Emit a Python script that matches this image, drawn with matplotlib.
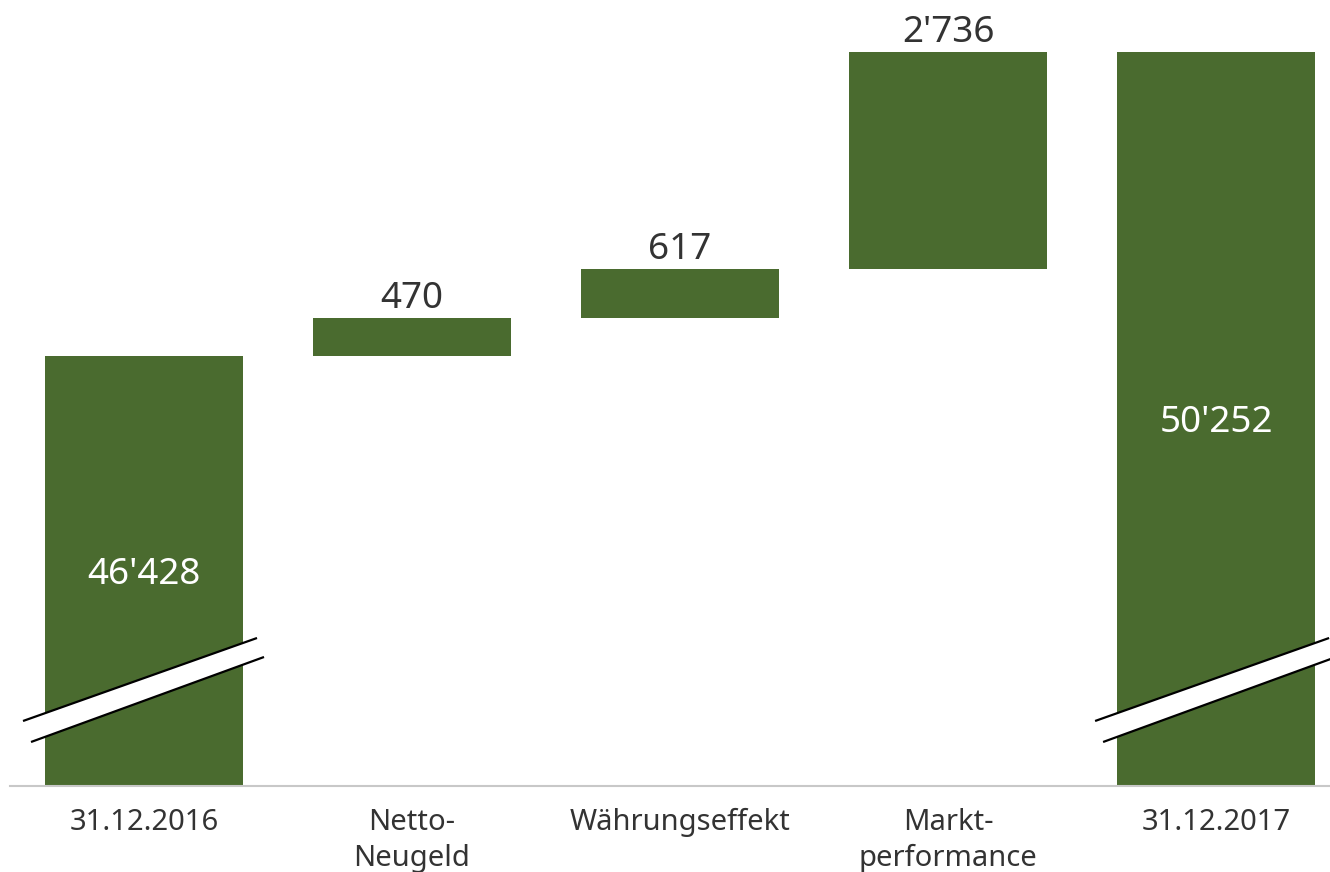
import matplotlib
matplotlib.use('Agg')
from matplotlib import pyplot as plt
from matplotlib.patches import Polygon

plt.rcParams['font.family'] = ['Noto Sans', 'DejaVu Sans']

categories = ['31.12.2016', 'Netto-\nNeugeld', 'Währungseffekt', 'Markt-\nperformance', '31.12.2017']
start_value = 46428
deltas = [470, 617, 2736]
end_value = 50252
labels = ["46'428", '470', '617', "2'736", "50'252"]

green = '#4a6b2f'
text_col = '#333333'

fig = plt.figure(figsize=(13.3, 8.72), dpi=100)
ax = fig.add_axes([10 / 1330, 1 - 786 / 872, 1320 / 1330, 786 / 872])

ymin, ymax = 41003, 50908
xmin, xmax = -0.5, 4.425
ax.set_xlim(xmin, xmax)
ax.set_ylim(ymin, ymax)

# bar bottoms and heights
bottoms = [0]
heights = [start_value]
level = start_value
for d in deltas:
    bottoms.append(level)
    heights.append(d)
    level += d
bottoms.append(0)
heights.append(end_value)

x = list(range(len(categories)))
ax.bar(x, heights, bottom=bottoms, width=0.739, color=green, zorder=2)

# labels
for i in x:
    top = bottoms[i] + heights[i]
    if i in (0, len(x) - 1):
        mid = (max(bottoms[i], ymin) + top) / 2
        ax.annotate(labels[i], (i, mid), xytext=(0, -3), textcoords='offset points',
                    ha='center', va='center', color='white', fontsize=26.5)
    else:
        ax.annotate(labels[i], (i, top), xytext=(0, 1), textcoords='offset points',
                    ha='center', va='bottom', color=text_col, fontsize=26.5)

# axis break marks (pixel offsets converted to data units)
px_x = (xmax - xmin) / 1320
px_y = (ymax - ymin) / 786
line1 = [(-121, 65), (113, 148)]
line2 = [(-113, 44), (120, 129)]
for i in (0, len(x) - 1):
    l1 = [(i + a * px_x, ymin + b * px_y) for a, b in line1]
    l2 = [(i + a * px_x, ymin + b * px_y) for a, b in line2]
    poly = Polygon(l1 + l2[::-1], closed=True, facecolor='white', edgecolor='none',
                   zorder=3, clip_on=False)
    ax.add_patch(poly)
    for l in (l1, l2):
        ax.plot([p[0] for p in l], [p[1] for p in l], color='black', lw=1.6,
                zorder=4, clip_on=False, solid_capstyle='butt')

for s in ['top', 'right', 'left']:
    ax.spines[s].set_visible(False)
ax.spines['bottom'].set_color('#c8c8c8')
ax.spines['bottom'].set_linewidth(1.5)
ax.set_yticks([])
ax.set_xticks(x)
ax.set_xticklabels(categories, fontsize=21, color=text_col, linespacing=1.3, va='top')
ax.tick_params(axis='x', length=0, pad=16)

plt.savefig('out.png', dpi=100)
